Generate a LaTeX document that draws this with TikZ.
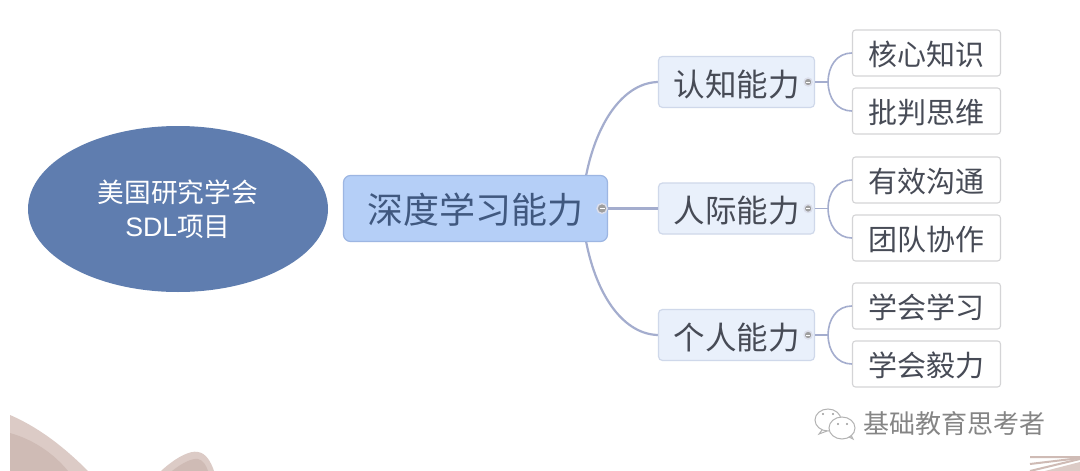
\documentclass[tikz,border=0pt]{standalone}
\usepackage{fontspec}
\setmainfont{Noto Sans CJK SC}
\setsansfont{Liberation Sans}
\usetikzlibrary{shapes.geometric}
\definecolor{conn}{HTML}{A4ADCE}
\definecolor{leafline}{HTML}{D4D4D6}
\definecolor{txt}{HTML}{474B56}
\definecolor{rootblue}{HTML}{5F7DAF}
\definecolor{mainfill}{HTML}{B5CFF7}
\definecolor{mainline}{HTML}{9DB6E2}
\definecolor{mainText}{HTML}{40587F}
\definecolor{subfill}{HTML}{E9F0FB}
\definecolor{subline}{HTML}{CFD8EA}
\definecolor{deco}{HTML}{DCCBC6}
\definecolor{decodark}{HTML}{CFBBB5}
\newcommand{\dn}[2]{\raisebox{\dimexpr-0.36em-#1pt\relax}[0pt][0pt]{#2}}
\tikzset{x=1pt,y=-1pt,
 rootnode/.style={ellipse,fill=rootblue,minimum width=300pt,minimum height=166pt,inner sep=0pt,text=white,font=\fontsize{26.7}{34}\selectfont,align=center},
 mainnode/.style={rectangle,rounded corners=7pt,draw=mainline,line width=1.2pt,fill=mainfill,minimum width=264pt,minimum height=66pt,inner sep=0pt,text=mainText,font=\fontsize{36}{40}\selectfont},
 subnode/.style={rectangle,rounded corners=4pt,draw=subline,line width=1.2pt,fill=subfill,minimum width=156pt,minimum height=51pt,inner sep=0pt,text=txt,font=\fontsize{31.5}{34}\selectfont},
 leafnode/.style={rectangle,rounded corners=3pt,draw=leafline,line width=1.1pt,fill=white,minimum width=148pt,minimum height=46pt,inner sep=0pt,text=txt,font=\fontsize{29}{32}\selectfont},
 knob/.style={circle,draw=conn!40,fill=black!38,line width=1.4pt,minimum size=8pt,inner sep=0pt},
 link/.style={draw=conn,line width=2.2pt},
 leaflink/.style={draw=conn,line width=1.6pt}}
\begin{document}
\begin{tikzpicture}
\useasboundingbox (0,0) rectangle (1080,471);
\fill[white] (0,0) rectangle (1080,471);
% decorative shapes at the bottom
\fill[deco] (10,415) .. controls (40,428) and (65,448) .. (88,471) -- (10,471) -- cycle;
\fill[decodark] (10,433) .. controls (35,440) and (55,455) .. (68,471) -- (10,471) -- cycle;
\fill[deco] (161,471) .. controls (175,458) and (190,450) .. (198,452) .. controls (206,453) and (211,462) .. (214,471) -- cycle;
\fill[decodark] (172,471) .. controls (182,463) and (192,458) .. (198,459) .. controls (203,460) and (206,465) .. (208,471) -- cycle;
\foreach \yy in {0,5,10}
  \draw[decodark,line width=2pt] (1030,471-\yy*0.4) ++(0,-\yy) -- (1080,459-\yy*0.2);
\fill[deco] (1045,471) -- (1080,462) -- (1080,471) -- cycle;
% connectors to the second level, drawn under the boxes
\coordinate (mainN) at (586,176);
\coordinate (mainS) at (586,241);
\coordinate (s1w) at (659,82);
\coordinate (s3w) at (659,335);
\draw[link] (mainN) .. controls (597,120) and (625,82) .. (s1w);
\draw[link] (mainS) .. controls (597,298) and (625,335) .. (s3w);
% nodes
\node[rootnode] (root) at (178,209) {\dn{1}{美国研究学会}\\\dn{1}{{\sffamily SDL}项目}};
\node[mainnode] (main) at (475.5,208.5) {\dn{2.5}{深度学习能力}};
\node[subnode] (s1) at (736.5,82) {\dn{3}{认知能力}};
\node[subnode] (s2) at (736.5,208.5) {\dn{3}{人际能力}};
\node[subnode] (s3) at (736.5,335) {\dn{3}{个人能力}};
\node[leafnode] (l1) at (926.5,53) {\dn{2}{核心知识}};
\node[leafnode] (l2) at (926.5,111) {\dn{2}{批判思维}};
\node[leafnode] (l3) at (926.5,180) {\dn{2}{有效沟通}};
\node[leafnode] (l4) at (926.5,238) {\dn{2}{团队协作}};
\node[leafnode] (l5) at (926.5,306) {\dn{2}{学会学习}};
\node[leafnode] (l6) at (926.5,364) {\dn{2}{学会毅力}};
% connectors
\draw[link] (main.east) -- (s2.west);
\node[knob,minimum size=10pt] (k0) at (602,208.5) {};
\draw[white,line width=.7pt] ([xshift=-2.5pt]k0.center) -- ([xshift=2.5pt]k0.center);
\foreach \s/\a/\b in {s1/l1/l2,s2/l3/l4,s3/l5/l6}{
  \node[knob] (k\s) at ([xshift=-7pt]\s.east) {};
  \draw[white,line width=.5pt] ([xshift=-2pt]k\s.center) -- ([xshift=2pt]k\s.center);
  \draw[leaflink] (\s.east) -- ++(13,0) coordinate (m\s);
  \draw[leaflink] (\a.west) .. controls ([xshift=-15pt]\a.west) and ([yshift=16pt]m\s) .. (m\s)
     .. controls ([yshift=-16pt]m\s) and ([xshift=-15pt]\b.west) .. (\b.west);
}
% watermark
\node[text=white,font=\fontsize{26}{30}\selectfont,anchor=west,inner sep=0pt] at (864.5,425.5) {基础教育思考者};
\node[text=black!48,font=\fontsize{26}{30}\selectfont,anchor=west,inner sep=0pt] (wm) at (863,424) {基础教育思考者};
\draw[black!30,line width=1pt,fill=white] (828,420) ellipse (13 and 11);
\draw[black!30,line width=1pt] (822,430) -- (819,434) -- (827,431);
\draw[black!30,line width=1pt,fill=white] (842,428) ellipse (13 and 11);
\draw[black!30,line width=1pt] (849,437) -- (853,439) -- (851,435);
\fill[black!40] (823,414) circle (1.1) (833,414) circle (1.1) (838,424) circle (1.1) (847,424) circle (1.1);
\end{tikzpicture}
\end{document}
